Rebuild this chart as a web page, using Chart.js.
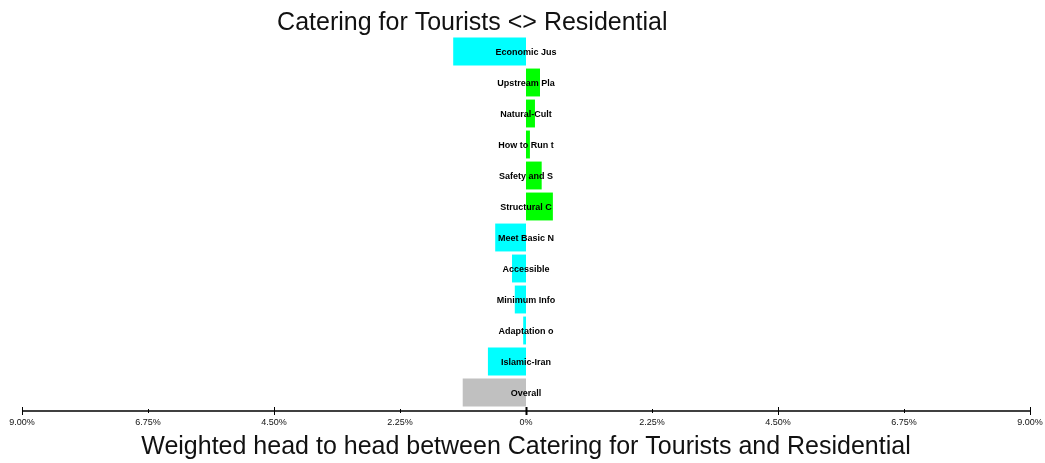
<!DOCTYPE html>
<html>
<head>
<meta charset="utf-8">
<script src="https://cdn.jsdelivr.net/npm/chart.js@4"></script>
<style>
  html, body { margin: 0; padding: 0; background: #fff; }
  #wrap { width: 1045px; height: 463px; }
</style>
</head>
<body>
<div id="wrap"><canvas id="chart"></canvas></div>
<script>
const chartTitle = "Catering for Tourists <> Residential";
// categories (as shown, truncated)
const categories = [
  "Economic Jus", "Upstream Pla", "Natural-Cult", "How to Run t",
  "Safety and S", "Structural C", "Meet Basic N", "Accessible",
  "Minimum Info", "Adaptation o", "Islamic-Iran", "Overall"
];
// weighted head to head (%), negative = Catering for Tourists side
const values = [-1.30, 0.25, 0.16, 0.07, 0.28, 0.48, -0.55, -0.25, -0.20, -0.05, -0.68, -1.13];
const tickValues = [-9, -6.75, -4.5, -2.25, 0, 2.25, 4.5, 6.75, 9];
const majorTicks = [-9, -4.5, 0, 4.5, 9];

const barColors = values.map((v, i) =>
  categories[i] === "Overall" ? "#c0c0c0" : (v < 0 ? "#00ffff" : "#00ff00"));

const FONT = "'Liberation Sans', Arial, sans-serif";

// title (sits a bit left of centre in the original), category names on the zero line,
// axis line and tick marks
const overlay = {
  id: "overlay",
  afterDatasetsDraw(chart) {
    const { ctx, scales: { x, y } } = chart;
    const x0 = x.getPixelForValue(0);
    ctx.save();

    ctx.fillStyle = "#111";
    ctx.font = "25px " + FONT;
    ctx.textAlign = "center";
    ctx.textBaseline = "alphabetic";
    ctx.fillText(chartTitle, chart.width * 0.452, 30);

    ctx.fillStyle = "#000";
    ctx.font = "bold 9px " + FONT;
    ctx.textBaseline = "middle";
    categories.forEach((c, i) => ctx.fillText(c, x0, y.getPixelForValue(i) + 1));

    const axisY = chart.chartArea.bottom + 3;
    ctx.strokeStyle = "#000";
    ctx.lineWidth = 1.5;
    ctx.beginPath();
    ctx.moveTo(x.getPixelForValue(-9), axisY);
    ctx.lineTo(x.getPixelForValue(9), axisY);
    ctx.stroke();
    tickValues.forEach(v => {
      const px = Math.round(x.getPixelForValue(v)) + 0.5;
      const h = majorTicks.includes(v) ? 4 : 2;
      ctx.lineWidth = v === 0 ? 2 : 1;
      ctx.beginPath();
      ctx.moveTo(px, axisY - h);
      ctx.lineTo(px, axisY + h);
      ctx.stroke();
    });
    ctx.restore();
  }
};

new Chart(document.getElementById("chart"), {
  type: "bar",
  data: {
    labels: categories,
    datasets: [{
      data: values,
      backgroundColor: barColors,
      borderWidth: 0,
      barPercentage: 0.9,
      categoryPercentage: 1.0
    }]
  },
  options: {
    indexAxis: "y",
    responsive: true,
    maintainAspectRatio: false,
    animation: false,
    layout: { padding: { left: 22, right: 15, top: 36, bottom: 1 } },
    plugins: {
      legend: { display: false },
      tooltip: { enabled: false },
      title: { display: false }
    },
    scales: {
      x: {
        min: -9,
        max: 9,
        grid: { display: false, drawTicks: false },
        border: { display: false },
        afterBuildTicks(scale) {
          scale.ticks = tickValues.map(v => ({ value: v }));
        },
        afterFit(scale) {
          scale.height = 54;
          scale.paddingLeft = 0;
          scale.paddingRight = 0;
        },
        ticks: {
          padding: 9,
          color: "#111",
          maxRotation: 0,
          autoSkip: false,
          font: { family: FONT, size: 9 },
          callback: v => (v === 0 ? "0%" : Math.abs(v).toFixed(2) + "%")
        },
        title: {
          display: true,
          text: "Weighted head to head between Catering for Tourists and Residential",
          color: "#111",
          font: { family: FONT, size: 25 },
          padding: { top: 4, bottom: 0 }
        }
      },
      y: { display: false }
    }
  },
  plugins: [overlay]
});
</script>
</body>
</html>
